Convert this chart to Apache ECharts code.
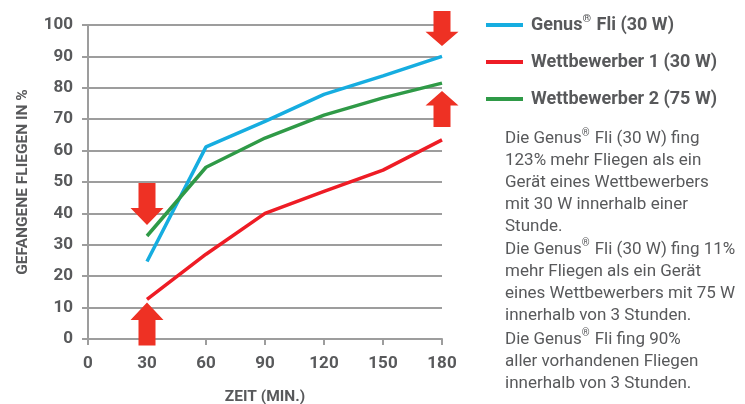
<!DOCTYPE html>
<html>
<head>
<meta charset="utf-8">
<script src="https://cdn.jsdelivr.net/npm/echarts@6/dist/echarts.min.js"></script>
<style>
  html, body { margin: 0; padding: 0; background: #fff; }
  #chart { width: 745px; height: 404px; }
</style>
</head>
<body>
<div id="chart"></div>
<script>
const times = [30, 60, 90, 120, 150, 180];
const seriesNames = ['Genus® Fli (30 W)', 'Wettbewerber 1 (30 W)', 'Wettbewerber 2 (75 W)'];
const genusFli = [24.7, 61.2, 69.3, 77.9, 83.8, 90];
const wettbewerber1 = [12.6, 27, 40, 47, 53.8, 63.4];
const wettbewerber2 = [32.8, 54.7, 64, 71.3, 76.8, 81.5];
const colors = ['#16ade0', '#ee1c25', '#2f9a47'];

// annotation arrows: x value, tip value, direction, height in px
const arrowX = [30, 30, 180, 180];
const arrowTip = [36.3, 11.6, 93.3, 79];
const arrowDir = ['down', 'up', 'down', 'up'];
const arrowLen = [42, 43, 35, 36];

const notes = [
  'Die Genus{sup|®} Fli (30 W) fing\n123% mehr Fliegen als ein\nGerät eines Wettbewerbers\nmit 30 W innerhalb einer\nStunde.',
  'Die Genus{sup|®} Fli (30 W) fing 11%\nmehr Fliegen als ein Gerät\neines Wettbewerbers mit 75 W\ninnerhalb von 3 Stunden.',
  'Die Genus{sup|®} Fli fing 90%\naller vorhandenen Fliegen\ninnerhalb von 3 Stunden.'
];
const noteTops = [128, 238.5, 328.5];

const textColor = '#58595b';
const gridColor = '#9d9d9d';
const downPath = 'path://M8,0L25,0L25,25L33,25L16.5,42L0,25L8,25Z';
const upPath = 'path://M16.5,0L33,17L25,17L25,42L8,42L8,17L0,17Z';

const chart = echarts.init(document.getElementById('chart'));

const values = [genusFli, wettbewerber1, wettbewerber2];
const series = seriesNames.map((name, i) => ({
  name: name,
  type: 'line',
  data: times.map((t, j) => [t, values[i][j]]),
  symbol: 'none',
  lineStyle: { width: 3.5, color: colors[i] },
  itemStyle: { color: colors[i] },
  z: 3
}));

series[1].markPoint = {
  silent: true,
  z: 5,
  data: arrowX.map((x, i) => ({
    coord: [x, arrowTip[i]],
    symbol: arrowDir[i] === 'down' ? downPath : upPath,
    symbolSize: [33, arrowLen[i]],
    symbolOffset: [0, arrowDir[i] === 'down' ? -arrowLen[i] / 2 : arrowLen[i] / 2],
    itemStyle: { color: '#ee3124' },
    label: { show: false }
  }))
};

const supRich = {
  sup: { fontSize: 10, fontFamily: 'Roboto', color: textColor, verticalAlign: 'top', padding: [0, 1, 7, 0] }
};

chart.setOption({
  animation: false,
  grid: { left: 88, right: 303, top: 25, bottom: 65, outerBoundsMode: 'none', containLabel: false },
  textStyle: { fontFamily: 'Roboto', color: textColor },
  legend: {
    orient: 'vertical',
    left: 486,
    top: 14,
    padding: 0,
    itemGap: 15,
    itemWidth: 37,
    itemHeight: 4,
    icon: 'rect',
    data: seriesNames,
    formatter: name => name.replace('®', '{sup|®}'),
    textStyle: {
      fontFamily: 'Roboto',
      fontWeight: 'bold',
      fontSize: 18,
      lineHeight: 22,
      color: textColor,
      padding: [0, 0, 0, 3],
      rich: {
        sup: { fontSize: 11, fontWeight: 'bold', fontFamily: 'Roboto', color: textColor, verticalAlign: 'top', padding: [0, 1, 7, 0] }
      }
    }
  },
  xAxis: {
    type: 'value',
    min: 0,
    max: 180,
    interval: 30,
    name: 'ZEIT (MIN.)',
    nameLocation: 'middle',
    nameGap: 50,
    nameTextStyle: { fontFamily: 'Roboto', fontWeight: 'bold', fontSize: 15.5, color: textColor },
    axisLine: { show: true, lineStyle: { color: gridColor, width: 2 } },
    axisTick: { show: true, length: 6, lineStyle: { color: gridColor, width: 2 } },
    axisLabel: { fontFamily: 'Roboto', fontWeight: 'bold', fontSize: 17, color: textColor, margin: 16 },
    splitLine: { show: false }
  },
  yAxis: {
    type: 'value',
    min: 0,
    max: 100,
    interval: 10,
    name: 'GEFANGENE FLIEGEN IN %',
    nameLocation: 'middle',
    nameGap: 57,
    nameRotate: 90,
    nameTextStyle: { fontFamily: 'Roboto', fontWeight: 'bold', fontSize: 15.5, color: textColor },
    axisLine: { show: true, lineStyle: { color: gridColor, width: 2 } },
    axisTick: { show: true, length: 6, lineStyle: { color: gridColor, width: 2 } },
    axisLabel: { fontFamily: 'Roboto', fontWeight: 'bold', fontSize: 17, color: textColor, margin: 15 },
    splitLine: { show: true, lineStyle: { color: gridColor, width: 2 } }
  },
  graphic: notes.map((txt, i) => ({
    type: 'text',
    left: 505,
    top: noteTops[i],
    style: {
      text: txt,
      font: '17px Roboto',
      fill: textColor,
      lineHeight: 22,
      rich: supRich
    }
  })),
  series: series
});
</script>
</body>
</html>
